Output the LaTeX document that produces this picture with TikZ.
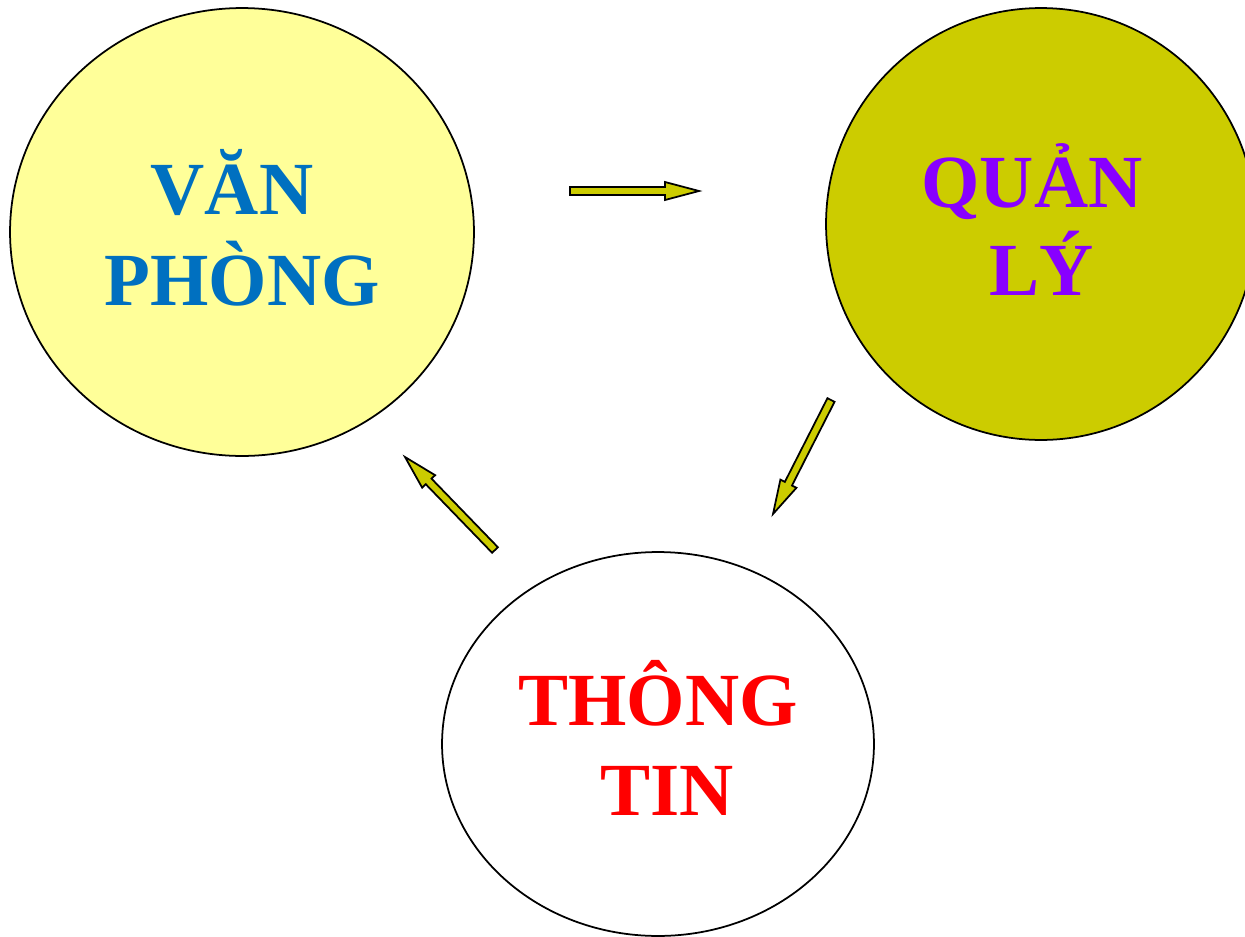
\documentclass[tikz,border=0pt]{standalone}
\usepackage{fontspec}
\setmainfont{Liberation Serif}
\usetikzlibrary{calc,shapes.geometric}
\definecolor{paleyellow}{HTML}{FFFF99}
\definecolor{olive}{HTML}{CCCC00}
\definecolor{txtblue}{HTML}{0070C0}
\definecolor{txtpurple}{HTML}{8800FF}
\definecolor{txtred}{HTML}{FF0000}
\newcommand\blockarrow[2]{%
  \path let \p0=(0,0) in coordinate (h#1) at ($(#2)!0.68cm!(#1)$);
  \draw[arrowstyle]
    ($(#1)!0.08cm!90:(#2)$) -- ($(h#1)!0.08cm!-90:(#1)$) -- ($(h#1)!0.18cm!-90:(#1)$)
    -- (#2) -- ($(h#1)!0.18cm!90:(#1)$) -- ($(h#1)!0.08cm!90:(#1)$)
    -- ($(#1)!0.08cm!-90:(#2)$) -- cycle;}
\begin{document}
\begin{tikzpicture}[x=0.02cm,y=-0.02cm,
  circ/.style={ellipse,draw=black,line width=1pt,inner sep=0pt},
  lbl/.style={anchor=base,inner sep=0pt,font=\fontsize{42.7pt}{51.2pt}\selectfont\bfseries},
  arrowstyle/.style={draw=black,fill=olive,line width=1pt,line join=miter}]
\useasboundingbox (0,0) rectangle (1245,937);
\clip (0,0) rectangle (1245,937);
\node[circ,fill=paleyellow,minimum width=9.28cm,minimum height=8.96cm] (vp) at (242,232) {};
\node[circ,fill=olive,minimum width=8.6cm,minimum height=8.64cm] (ql) at (1041,224) {};
\node[circ,fill=white,minimum width=8.64cm,minimum height=7.68cm] (tt) at (658,744) {};
\node[lbl,text=txtblue] (vp1) at (232,214) {VĂN};
\node[lbl,text=txtblue] (vp2) at (242,305) {PHÒNG};
\node[lbl,text=txtpurple] (ql1) at (1032,207) {QUẢN};
\node[lbl,text=txtpurple] (ql2) at (1042,295) {LÝ};
\node[lbl,text=txtred] (tt1) at (658,725) {THÔNG};
\node[lbl,text=txtred] (tt2) at (667,815) {TIN};
\coordinate (a1) at (570,191);
\coordinate (b1) at (699,191);
\coordinate (a2) at (831,400);
\coordinate (b2) at (773,514);
\coordinate (a3) at (495,550);
\coordinate (b3) at (405,457);
\blockarrow{a1}{b1}
\blockarrow{a2}{b2}
\blockarrow{a3}{b3}
\end{tikzpicture}
\end{document}
